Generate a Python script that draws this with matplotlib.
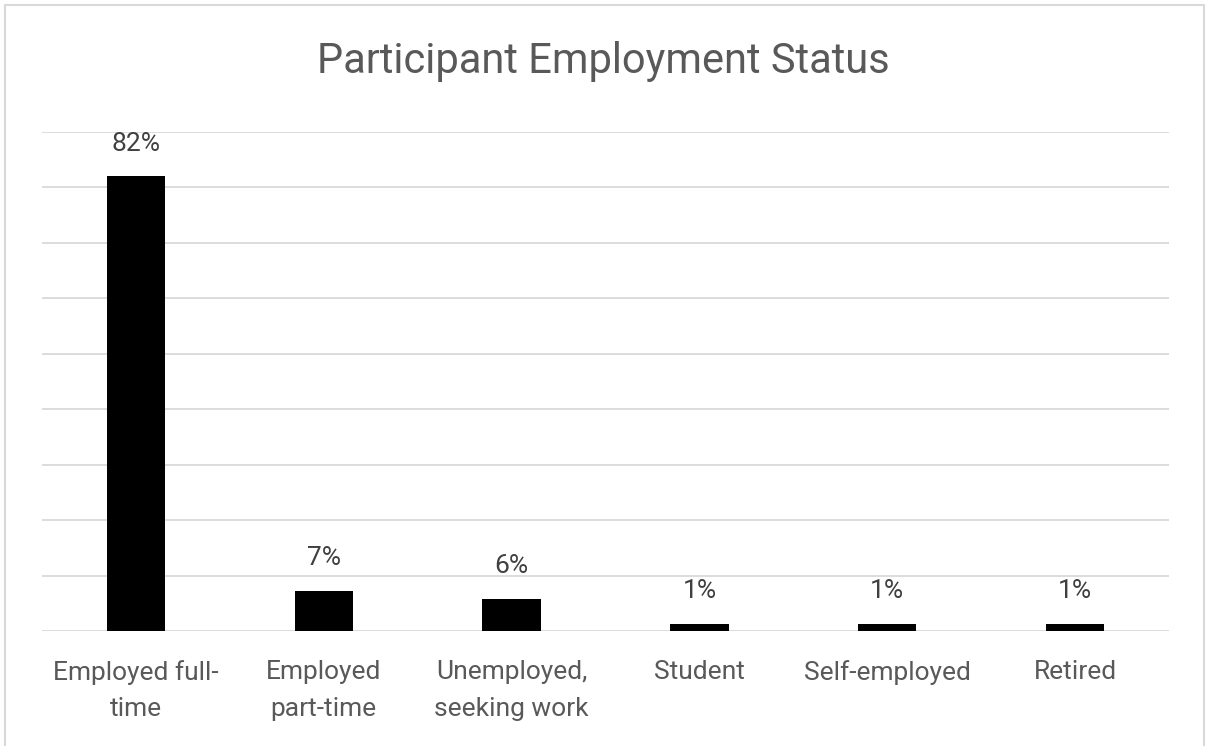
import numpy as np
import matplotlib.pyplot as plt
from matplotlib.patches import Rectangle

# --- datos ---
categorias = ['Employed full-\ntime', 'Employed\npart-time', 'Unemployed,\nseeking work',
              'Student', 'Self-employed', 'Retired']
valores = [0.82, 0.072, 0.058, 0.013, 0.013, 0.013]
etiquetas = ['82%', '7%', '6%', '1%', '1%', '1%']
ticks_y = np.arange(0, 0.91, 0.1)

plt.rcParams['font.family'] = ['Roboto', 'DejaVu Sans']

fig = plt.figure(figsize=(12.07, 7.46), dpi=100)
ax = fig.add_axes([42 / 1207, 115 / 746, 1127 / 1207, 499 / 746])

x = np.arange(len(categorias))
ax.bar(x, valores, width=0.31, color='black', zorder=3)

for xi, v, txt in zip(x, valores, etiquetas):
    ax.annotate(txt, (xi, v), xytext=(0, 15), textcoords='offset points',
                ha='center', va='bottom', fontsize=19, color='#404040')

ax.set_xlim(-0.5, len(categorias) - 0.5)
ax.set_ylim(0, 0.9)
ax.set_yticks(ticks_y)
ax.set_yticklabels([])
ax.tick_params(axis='y', length=0)
ax.grid(axis='y', color='#d9d9d9', linewidth=1.3, zorder=0)
ax.set_xticks(x)
ax.set_xticklabels(categorias, fontsize=19, color='#595959', linespacing=1.65)
ax.tick_params(axis='x', length=0, pad=21)
for s in ax.spines.values():
    s.set_visible(False)

fig.text(0.5, 1 - 62 / 746, 'Participant Employment Status', ha='center', va='center',
         fontsize=30, color='#595959')

# borde del area del grafico
fig.patches.append(Rectangle((5 / 1207, -0.01), 1199 / 1207, 1 - 5 / 746 + 0.01,
                             transform=fig.transFigure, fill=False,
                             edgecolor='#d9d9d9', linewidth=1.5))

fig.savefig('out.png', dpi=100)
